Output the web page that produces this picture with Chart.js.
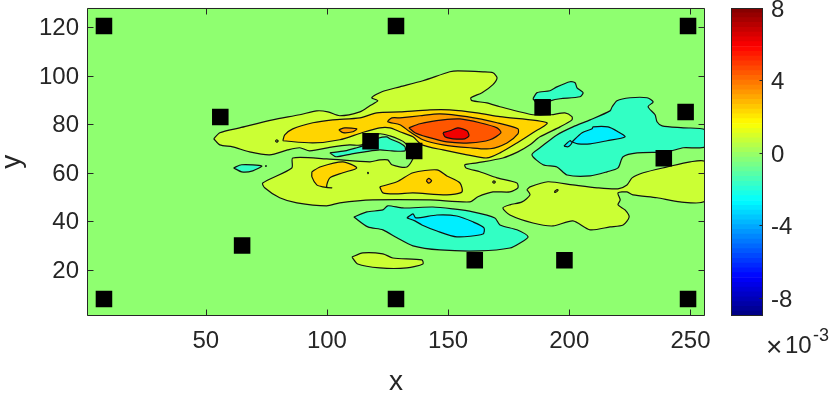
<!DOCTYPE html>
<html><head><meta charset="utf-8">
<script src="https://cdn.jsdelivr.net/npm/chart.js@4"></script>
<style>html,body{margin:0;padding:0;background:#fff;overflow:hidden}
canvas{position:absolute;left:0;top:0}#main{top:-4px}</style></head>
<body><canvas id="main" width="830" height="397"></canvas><canvas id="bar" width="830" height="393"></canvas>
<script>
const xTicks=[50,100,150,200,250];
const yTicks=[20,40,60,80,100,120];
const barTicks=[-8,-4,0,4,8];
const stations=[[8,8],[128.5,8],[249,8],[8,120.5],[128.5,120.5],[249,120.5],[56,83],[118,73],[136,69],[189,87],[248,85],[239,66],[65,30],[161,24],[198,24]];
const domain=[[1,1],[256,1],[256,128],[1,128]];
const upperYellow=[[53.3,74],[55.8,76.5],[64,78.5],[77.6,81.8],[88.8,83.9],[95.8,85.5],[100.4,85.1],[105.3,83.5],[113.6,85.1],[117.7,87.6],[121,89.7],[118.5,90.9],[122.7,93.4],[130.1,95.4],[139.6,97.9],[150.7,101.6],[154,102],[164.4,101.6],[168.5,101.2],[170.2,99.1],[168.5,96.3],[164,93],[159.4,90.9],[159.8,89.7],[166,88.8],[171.4,87.2],[185,83.9],[192.5,83.9],[198.2,84.7],[201.1,83.1],[201.1,81.8],[196.2,78.9],[187.9,74.8],[183.8,71.5],[178.8,68.6],[172.6,66.1],[161.9,64.1],[156.9,63.3],[157.4,62],[163.1,60.4],[170.2,57.9],[178.4,55.8],[178.8,53.8],[175.5,52.1],[168.5,52.1],[162.3,50.1],[159,48],[142.5,48.8],[118.9,48.8],[105.3,47.6],[99.9,46.4],[87.6,47.6],[80.5,49.7],[74.3,53.8],[73.5,55.8],[85.5,62],[85.9,66.1],[99.9,65.7],[117.7,64.5],[121.8,65.3],[125.1,65.3],[126.8,63.3],[133,62.4],[135.9,67.4],[132.2,72.3],[130.1,73.6],[126,75.2],[121.4,76],[114.4,71.5],[109.4,71.5],[102.4,70.7],[92.9,69],[88.8,70.3],[83.8,69.4],[76.4,67.4],[68.1,68.6],[61.1,70.7],[55.8,71.5]];
const goldTop=[[81.8,73.2],[82.6,75.6],[85.9,78.1],[94.2,80.6],[102.4,81.8],[113.6,82.6],[120.6,84.7],[130.1,85.1],[142.5,85.9],[150.7,85.9],[161.9,84.7],[171.4,83.1],[190.8,80.6],[185,76.5],[178.4,72.3],[171.4,68.2],[166,66.1],[157.8,67.4],[147.9,69.4],[139.2,71.5],[135.5,74.8],[130.1,76.9],[126,78.5],[121.8,78.5],[114.4,76.5],[105.3,73.6],[94.2,72.3]];
const orangeSmall=[[104.9,77.7],[107.4,78.5],[112.3,78.1],[110.7,76.9],[106.6,76.5]];
const orangeMain=[[130.1,82.6],[138.4,83.5],[146.6,84.3],[157.8,83.1],[170.2,80.6],[178.8,78.1],[178.8,76],[174.3,72.3],[167.3,69.9],[159,70.3],[147.9,71.5],[139.6,73.6],[134.2,76.9],[130.1,79.8],[125.1,81],[126.8,82.6]];
const redOrange=[[133.8,78.5],[138.4,80.2],[147.9,81.8],[154.9,82.2],[163.1,80.6],[170.2,78.5],[171.8,76.5],[167.3,73.6],[159,72.3],[149.5,72.7],[141.2,74.8],[136.3,76.5]];
const redCore=[[147.9,76.5],[150.7,77.3],[154,78.5],[157.8,77.3],[158.6,75.2],[156.9,74],[152,74],[148.7,74.8]];
const goldLowA=[[93.8,60.4],[97.1,62.4],[106.6,64.5],[112.3,62],[106.6,60],[101.2,57.9],[99.9,54.2],[102,53.8],[98.3,54.2],[95.8,55],[93.8,58.3]];
const goldLowB=[[121.8,54.2],[128.9,56.3],[135.5,60],[145.4,61.2],[149.5,58.7],[154.9,55.8],[155.7,52.1],[149.5,50.9],[135.5,51.7],[128.9,51.3],[123.1,51.7]];
const orangeDot=[[141,56.7],[142,57.7],[143.2,56.7],[142,55.7]];
const cyanLeft=[[61.5,62],[64.8,63.3],[73.1,62.8],[69.4,60.8],[64.8,60.4]];
const cyanBay=[[101.2,68.2],[103.7,66.6],[110.3,67.8],[115.6,68.6],[121.8,69.4],[126.8,69],[132.2,69],[132.2,70.7],[130.1,72.3],[126,74],[124.7,74.8],[121.4,74.3],[114.8,71.1],[112.3,70.3],[107.4,69]];
const tealLow=[[111.1,41.8],[116.5,43.9],[123.1,44.7],[125.1,46.4],[131.3,45.5],[143.7,45.9],[152,45.1],[160.2,43.9],[169.3,41.4],[171.4,38.5],[178.4,36.5],[183,33.6],[179.7,31.1],[175.5,29],[163.1,27.8],[146.6,28.2],[135.5,29.9],[128.9,33.2],[123.1,36.5],[116.9,37.7]];
const cyanLow=[[133,41.4],[135.5,43.1],[136.7,41.4],[145.4,42.6],[153.6,42.2],[160.2,39.8],[164.8,37.3],[164.4,34.8],[153.6,33.6],[145.4,36],[139.2,38.5],[136.3,40.2]];
const yellowBottom=[[110.3,25.3],[114.8,27],[123.1,26.6],[127.2,24.9],[139.2,24.1],[139.6,22.4],[133,20.8],[121.8,20.8],[112.7,22.4]];
const yellowRight=[[182.5,53],[183.8,54.2],[191.2,56.3],[201.5,55],[211.5,53.8],[220.1,53.4],[223.8,55],[225.9,57.9],[230.5,60],[240.4,62.4],[249.9,64.5],[256,64.5],[256,48.4],[245.7,48],[236.2,49.7],[226.3,50.9],[223.8,52.1],[220.1,51.7],[221,48.8],[220.1,46.8],[223,44.7],[224.7,41.8],[222.2,38.5],[216.8,37.7],[208.6,36.5],[201.5,40.2],[193.3,38.1],[185,39.3],[175.5,42.6],[172.6,45.5],[175.5,46.8],[180.5,48],[183.8,50.9]];
const goldTiny=[[193.8,52.2],[195,53.1],[195.4,52.8],[194.2,51.9]];
const tealRight=[[187.9,70.3],[194.9,75.6],[201.5,78.9],[208.6,81.8],[216.8,85.5],[217.7,87.2],[219.7,89.7],[225.1,90.9],[232.1,90.9],[234.6,89.2],[232.5,87.2],[235.4,83.9],[236.2,81],[238.3,79.3],[247,78.5],[256,77.7],[256,70.7],[247,70.3],[240.4,68.6],[228,68.2],[222.2,66.6],[220.1,62],[215.6,60.4],[208.6,58.7],[199.1,59.1],[194.9,62.4],[189.2,63.3],[184.6,67.4]];
const cyanRight=[[201.1,72.7],[205.3,76.5],[209.4,78.1],[209.8,78.9],[216,78.9],[220.1,76.9],[223,74.8],[215.6,73.2],[208.6,71.9],[203.6,71.9]];
const cyanRing=[[197.8,71],[200.3,73.2],[201.1,72.3],[199.5,70.7]];
const tealTop=[[185,90.5],[186.7,93],[192,93.8],[194.9,95.4],[200.3,97.5],[202.4,97.1],[203.2,95],[205.7,93],[204.4,91.3],[196.2,90.5],[192.5,89.7],[187.9,87.6]];
const dotA=[[78.7,73.1],[79.3,73.6],[79.9,73.1],[79.3,72.6]];
const dotB=[[168.3,56.2],[168.9,56.7],[169.5,56.2],[168.9,55.7]];
const dotC=[[74.6,62.8],[74.8,63],[75,62.8],[74.8,62.6]];
const dotD=[[116.7,59.9],[116.9,60.2],[117.1,59.9],[116.9,59.6]];

const LOW='#cbff34',GOLD='#ffd500',ORANGE='#ff9c00',DEEP='#ff5600',RED='#f00000',TEAL='#32ffc4',CYAN='#00eeff',BACK='#8fff70';
const layers=[[upperYellow,LOW],[yellowRight,LOW],[yellowBottom,LOW],[tealRight,TEAL],[tealTop,TEAL],[tealLow,TEAL],[cyanBay,TEAL],[cyanLeft,TEAL],
 [goldTop,GOLD],[goldLowA,GOLD],[goldLowB,GOLD],[goldTiny,GOLD],[orangeSmall,ORANGE],[orangeMain,ORANGE],[orangeDot,ORANGE],[redOrange,DEEP],[redCore,RED],
 [cyanRight,CYAN],[cyanRing,CYAN],[cyanLow,CYAN],[dotA,LOW],[dotB,LOW],[dotC,TEAL],[dotD,TEAL]];
const pts=a=>a.concat([a[0]]).map(p=>({x:p[0],y:p[1]}));
const INK='#262626';
const font=(s,l)=>({family:'"Liberation Sans"',size:s,lineHeight:l||1.2});
const noPad=s=>{s.paddingLeft=s.paddingRight=s.paddingTop=s.paddingBottom=0;};
const datasets=[{type:'scatter',label:'stations',data:stations.map(p=>({x:p[0],y:p[1]})),pointStyle:'rect',pointRadius:11.7,pointHoverRadius:11.7,backgroundColor:'#000',borderWidth:0,order:0,showLine:false}];
layers.forEach((l,i)=>datasets.push({type:'scatter',label:'c'+i,data:pts(l[0]),showLine:true,fill:'shape',backgroundColor:l[1],borderColor:'#111',borderWidth:1.2,tension:0.25,pointRadius:0,pointHoverRadius:0,order:100-i}));
datasets.push({type:'scatter',label:'base',data:pts(domain),showLine:true,fill:'shape',backgroundColor:BACK,borderWidth:0,borderColor:BACK,tension:0,pointRadius:0,pointHoverRadius:0,order:200});

const frame={id:'frame',afterDatasetsDraw(c){
 const a=c.chartArea,x=c.ctx;x.save();x.strokeStyle=INK;x.lineWidth=1;
 x.beginPath();
 const L=Math.round(a.left)+.5,R=Math.round(a.right)-.5,T=Math.round(a.top)+.5,B=Math.round(a.bottom)-.5;
 x.rect(L,T,R-L,B-T);
 const sx=c.scales.x,sy=c.scales.y;
 xTicks.forEach(v=>{const p=Math.round(sx.getPixelForValue(v))+.5;x.moveTo(p,B);x.lineTo(p,B-6);x.moveTo(p,T);x.lineTo(p,T+6);});
 yTicks.forEach(v=>{const p=Math.round(sy.getPixelForValue(v))+.5;x.moveTo(L,p);x.lineTo(L+6,p);x.moveTo(R,p);x.lineTo(R-6,p);});
 x.stroke();x.restore();}};
new Chart(document.getElementById('main'),{type:'scatter',data:{datasets},plugins:[frame],options:{
 responsive:false,animation:false,devicePixelRatio:1,layout:{padding:{left:0,right:125,top:4,bottom:0}},
 plugins:{legend:{display:false},tooltip:{enabled:false}},
 scales:{
  x:{type:'linear',min:1,max:256,grid:{display:false,drawTicks:false},border:{display:false},
   afterFit(s){s.height=77;noPad(s);},afterBuildTicks(s){s.ticks=xTicks.map(value=>({value}));},
   ticks:{color:INK,font:font(24),padding:11,maxRotation:0,autoSkip:false,callback:v=>String(v)},
   title:{display:true,text:'x',color:INK,font:font(28,1),padding:{top:0,bottom:-3}}},
  y:{type:'linear',min:1,max:128,grid:{display:false,drawTicks:false},border:{display:false},
   afterFit(s){s.width=87;noPad(s);},afterBuildTicks(s){s.ticks=yTicks.map(value=>({value}));},
   ticks:{color:INK,font:font(24),padding:8,labelOffset:1.5,autoSkip:false,callback:v=>String(v)},
   title:{display:true,text:'y',color:INK,font:font(28,1),padding:{top:-2,bottom:0}}}
 }}});

// colour bar: 64 jet steps stacked from -9 to 8
const barMin=-9,barMax=8,steps=64;
const jet=i=>{const t=(i+.5)/steps,f=v=>Math.round(255*Math.max(0,Math.min(1,v)));
 return `rgb(${f(1.5-Math.abs(4*t-3))},${f(1.5-Math.abs(4*t-2))},${f(1.5-Math.abs(4*t-1))})`;};
const barSets=[];
for(let i=0;i<steps;i++)barSets.push({data:[[barMin+(barMax-barMin)*i/steps,barMin+(barMax-barMin)*(i+1)/steps]],backgroundColor:jet(i),borderWidth:0,barPercentage:1,categoryPercentage:1,grouped:false});
const barFrame={id:'barFrame',afterDatasetsDraw(c){
 const a=c.chartArea,x=c.ctx,sy=c.scales.y;x.save();x.strokeStyle=INK;x.lineWidth=1;x.beginPath();
 const L=Math.round(a.left)+.5,R=Math.round(a.right)-.5,T=Math.round(a.top)+.5,B=Math.round(a.bottom)-.5;
 x.rect(L,T,R-L,B-T);
 barTicks.forEach(v=>{const p=Math.round(sy.getPixelForValue(v))+.5;x.moveTo(R,p);x.lineTo(R-3,p);});
 x.stroke();
 x.fillStyle=INK;x.textBaseline='alphabetic';x.textAlign='left';
 x.font='28px "Liberation Sans"';x.fillText('×',766,356);
 x.font='24px "Liberation Sans"';x.fillText('10',785,353);
 x.font='18px "Liberation Sans"';x.fillText('-3',813,341);
 x.restore();}};
new Chart(document.getElementById('bar'),{type:'bar',data:{labels:['c'],datasets:barSets},plugins:[barFrame],options:{
 responsive:false,animation:false,devicePixelRatio:1,layout:{padding:{left:731,right:0,top:8,bottom:77}},
 plugins:{legend:{display:false},tooltip:{enabled:false}},
 scales:{
  x:{display:false,afterFit:noPad},
  y:{position:'right',min:barMin,max:barMax,grid:{display:false,drawTicks:false},border:{display:false},
   afterFit(s){s.width=67;noPad(s);},afterBuildTicks(s){s.ticks=barTicks.map(value=>({value}));},
   ticks:{color:INK,font:font(24),padding:8,labelOffset:2,autoSkip:false,callback:v=>String(v)}}
 }}});
</script></body></html>
